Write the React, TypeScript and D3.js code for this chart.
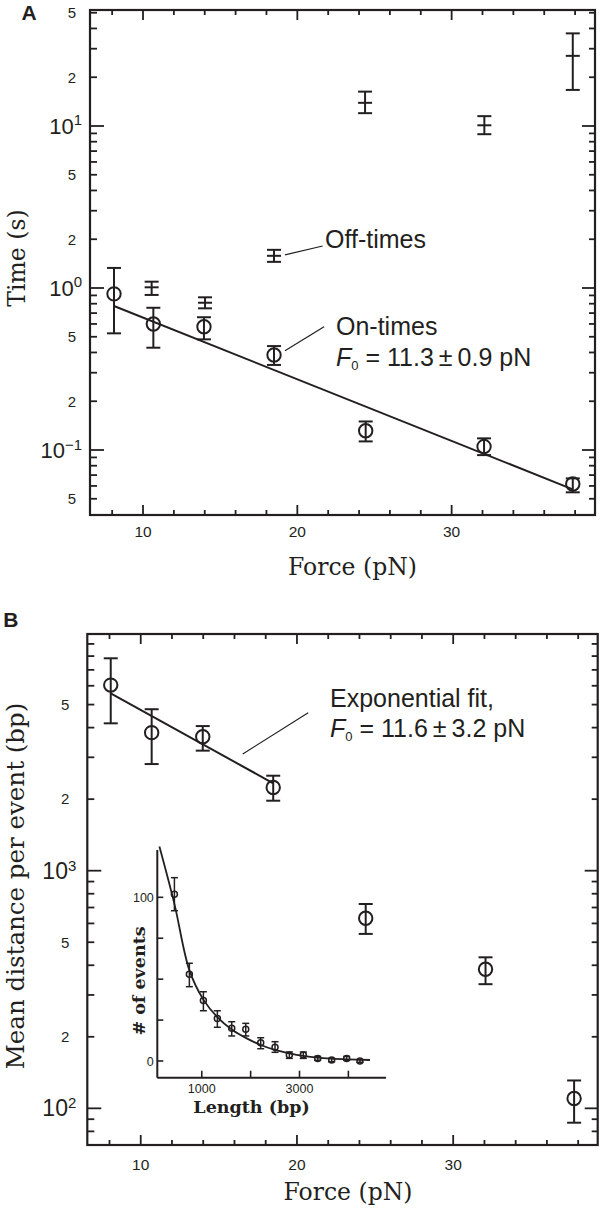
import * as d3 from 'd3';

const INK = '#231f20';
const SANS = '"Liberation Sans", Arial, Helvetica, sans-serif';
const SERIF = '"DejaVu Serif", "Liberation Serif", serif';

// ---- Panel A: on/off times vs force ----
const onForce = [8.12, 10.67, 13.95, 18.49, 24.43, 32.1, 37.85];
const onTime = [0.92, 0.6, 0.577, 0.386, 0.1316, 0.105, 0.0617];
const onLo = [0.525, 0.428, 0.482, 0.335, 0.113, 0.093, 0.0548];
const onHi = [1.33, 0.755, 0.66, 0.438, 0.15, 0.118, 0.0668];

const offForce = [10.56, 14.02, 18.49, 24.39, 32.12, 37.85];
const offTime = [1.01, 0.811, 1.58, 13.9, 10.1, 27.1];
const offLo = [0.906, 0.749, 1.45, 12.0, 8.9, 16.7];
const offHi = [1.094, 0.876, 1.72, 16.3, 11.5, 37.3];

// fit line end points
const onFitForce = [8.12, 37.85];
const onFitTime = [0.774, 0.0572];

// leader lines (data units)
const offLeaderForce = [19.2, 21.64];
const offLeaderTime = [1.6, 1.817];
const onLeaderForce = [19.2, 21.73];
const onLeaderTime = [0.41, 0.577];

// ---- Panel B: mean distance per event ----
const distForce = [8.08, 10.7, 13.97, 18.48, 24.4, 32.07, 37.74];
const dist = [6040, 3810, 3660, 2240, 631, 385, 110];
const distLo = [4170, 2810, 3200, 1970, 542, 333, 87];
const distHi = [7830, 4780, 4060, 2510, 724, 432, 131];

const distFitForce = [8.08, 18.48];
const distFit = [5570, 2333];
const distLeaderForce = [16.53, 20.72];
const distLeader = [3097, 4624];

// ---- Inset: histogram of lengths ----
const lengths = [440, 746, 1033, 1319, 1613, 1900, 2206, 2499, 2792, 3078, 3372, 3658, 3965, 4237];
const counts = [101.8, 53, 37, 26, 20, 19.4, 11.2, 8.4, 3.7, 3.7, 1.6, 0.6, 1.6, 0];
const countLo = [91.8, 45.4, 30.7, 20.6, 15.3, 15.3, 7.5, 5.3, 1.6, 1.6, 0.4, -0.4, 0.4, -0.8];
const countHi = [112, 59.7, 42.3, 30.7, 24, 23, 14.2, 11.8, 5.5, 5.5, 2.8, 1.6, 2.8, 0.8];
const curveLength = [133, 440, 746, 1033, 1319, 1613, 1920, 2206, 2499, 2792, 3078, 3372, 3658, 3965, 4442];
const curveCount = [131, 96, 55.5, 37.5, 26.8, 19.2, 13.8, 9.8, 6.8, 4.7, 3.1, 2.0, 1.4, 1.0, 0.6];

// tick values
const forceMajor = [10, 20, 30];
const forceMinor = [8, 12, 14, 16, 18, 22, 24, 26, 28, 32, 34, 36, 38];
const insetXTicks = [1000, 2000, 3000, 4000];
const insetXLabels = [1000, 3000];
const insetYTicks = [0, 25, 50, 75, 100];
const insetYLabels = [0, 100];

const xA = d3.scaleLinear().domain([6.565, 39.29]).range([90, 595]);
const yA = d3.scaleLog().domain([0.0397, 52]).range([515, 10]);
const xB = d3.scaleLinear().domain([6.58, 39.25]).range([87.3, 597.7]);
const yB = d3.scaleLog().domain([70.1, 9908]).range([1145, 634]);
const xI = d3.scaleLinear().domain([90, 4770]).range([157.3, 386]);
const yI = d3.scaleLinear().domain([-10.2, 128.9]).range([1077.7, 850]);

const sup = (e: number) => (e < 0 ? '\u2212' + Math.abs(e) : String(e));

function LogFrame({ x, y, xLabelY, majorFont, majorGap, minorGap, supRaise }: any) {
  const [x0, x1] = x.range();
  const [y1, y0] = y.range();
  const yt = y.ticks().filter((v: number) => y(v) > y0 + 1 && y(v) < y1 - 1);
  const isDecade = (v: number) => Math.abs(Math.log10(v) - Math.round(Math.log10(v))) < 1e-6;
  const lead = (v: number) => Math.round(v / Math.pow(10, Math.floor(Math.log10(v) + 1e-9)));
  return (
    <g stroke={INK} fill="none">
      <rect x={x0} y={y0} width={x1 - x0} height={y1 - y0} strokeWidth={2.2} />
      {forceMajor.concat(forceMinor).map((v) => {
        const len = forceMajor.includes(v) ? 10 : 5;
        return (
          <g key={'x' + v} strokeWidth={1.8}>
            <line x1={x(v)} x2={x(v)} y1={y1} y2={y1 - len} />
            <line x1={x(v)} x2={x(v)} y1={y0} y2={y0 + len} />
          </g>
        );
      })}
      {yt.map((v: number) => {
        const dec = isDecade(v);
        return (
          <g key={'y' + v} strokeWidth={1.8}>
            <line x1={x0} x2={x0 + (dec ? 14 : 7)} y1={y(v)} y2={y(v)} />
            <line x1={x1} x2={x1 - (dec ? 13 : 6)} y1={y(v)} y2={y(v)} />
          </g>
        );
      })}
      <g stroke="none" fill={INK} fontFamily={SANS}>
        {forceMajor.map((v) => (
          <text key={'xl' + v} x={x(v)} y={xLabelY} fontSize={15.5} textAnchor="middle">{v}</text>
        ))}
        {yt.map((v: number) => {
          if (isDecade(v)) {
            const e = Math.round(Math.log10(v));
            return (
              <text key={'yl' + v} x={x0 - majorGap} y={y(v) + 8} fontSize={majorFont} textAnchor="end">
                10<tspan fontSize={15} dy={-supRaise}>{sup(e)}</tspan>
              </text>
            );
          }
          const l = lead(v);
          if (l !== 2 && l !== 5) return null;
          return (
            <text key={'yl' + v} x={x0 - minorGap} y={y(v) + 5.3} fontSize={15} textAnchor="end">{l}</text>
          );
        })}
      </g>
    </g>
  );
}

function ErrBar({ cx, lo, hi, hw, mid }: any) {
  return (
    <g>
      <line x1={cx} x2={cx} y1={lo} y2={hi} />
      <line x1={cx - hw} x2={cx + hw} y1={lo} y2={lo} />
      <line x1={cx - hw} x2={cx + hw} y1={hi} y2={hi} />
      {mid !== undefined && <line x1={cx - hw} x2={cx + hw} y1={mid} y2={mid} />}
    </g>
  );
}

function FLabel({ x, y, text }: any) {
  return (
    <text x={x} y={y} fontSize={25} fontFamily={SANS} fill={INK}>
      <tspan fontStyle="italic">F</tspan>
      <tspan fontSize={13} dy={4}>0</tspan>
      <tspan dy={-4}>{' = ' + text}</tspan>
    </text>
  );
}

export default function App() {
  const lineA = d3.line<number>().x((d, i) => xA(onFitForce[i])).y((d) => yA(d));
  const lineB = d3.line<number>().x((d, i) => xB(distFitForce[i])).y((d) => yB(d));
  const curveI = d3
    .line<number>()
    .x((d, i) => xI(curveLength[i]))
    .y((d) => yI(d))
    .curve(d3.curveCatmullRom.alpha(0.5));

  return (
    <svg
      width={600}
      height={1209}
      viewBox="0 0 600 1209"
      style={{ position: 'absolute', left: 0, top: 0, background: '#fff' }}
    >
      <rect width={600} height={1209} fill="#fff" />

      {/* ---------- Panel A ---------- */}
      <text x={21.5} y={20} fontSize={21} fontWeight="bold" fontFamily={SANS} fill={INK}>A</text>
      <LogFrame x={xA} y={yA} xLabelY={536.7} majorFont={22} majorGap={8} minorGap={14} supRaise={8.5} />
      <text transform="translate(25,258) rotate(-90)" textAnchor="middle" fontSize={23.5} fontFamily={SERIF} fill={INK}>
        Time (s)
      </text>
      <text x={352.5} y={575} textAnchor="middle" fontSize={23.5} fontFamily={SERIF} fill={INK}>Force (pN)</text>

      <g stroke={INK} fill="none" strokeWidth={2}>
        <path d={lineA(onFitTime) || ''} />
        {offForce.map((f, i) => (
          <ErrBar key={'off' + i} cx={xA(f)} lo={yA(offLo[i])} hi={yA(offHi[i])} mid={yA(offTime[i])} hw={7} />
        ))}
        {onForce.map((f, i) => (
          <g key={'on' + i}>
            <ErrBar cx={xA(f)} lo={yA(onLo[i])} hi={yA(onHi[i])} hw={7} />
            <circle cx={xA(f)} cy={yA(onTime[i])} r={6.7} />
          </g>
        ))}
        <line
          strokeWidth={1.2}
          x1={xA(offLeaderForce[0])} y1={yA(offLeaderTime[0])}
          x2={xA(offLeaderForce[1])} y2={yA(offLeaderTime[1])}
        />
        <line
          strokeWidth={1.2}
          x1={xA(onLeaderForce[0])} y1={yA(onLeaderTime[0])}
          x2={xA(onLeaderForce[1])} y2={yA(onLeaderTime[1])}
        />
      </g>
      <text x={325} y={248} fontSize={25} fontFamily={SANS} fill={INK}>Off-times</text>
      <text x={336} y={335} fontSize={25} fontFamily={SANS} fill={INK}>On-times</text>
      <FLabel x={336} y={366} text={'11.3\u2009\u00b1\u20090.9 pN'} />

      {/* ---------- Panel B ---------- */}
      <text x={3.3} y={626.7} fontSize={21} fontWeight="bold" fontFamily={SANS} fill={INK}>B</text>
      <LogFrame x={xB} y={yB} xLabelY={1170} majorFont={23} majorGap={11} minorGap={18} supRaise={8} />
      <text transform="translate(23.5,886) rotate(-90)" textAnchor="middle" fontSize={24.5} fontFamily={SERIF} fill={INK}>
        Mean distance per event (bp)
      </text>
      <text x={348} y={1200} textAnchor="middle" fontSize={23.5} fontFamily={SERIF} fill={INK}>Force (pN)</text>

      <g stroke={INK} fill="none" strokeWidth={2}>
        <path d={lineB(distFit) || ''} />
        {distForce.map((f, i) => (
          <g key={'d' + i}>
            <ErrBar cx={xB(f)} lo={yB(distLo[i])} hi={yB(distHi[i])} hw={7} />
            <circle cx={xB(f)} cy={yB(dist[i])} r={6.7} />
          </g>
        ))}
        <line
          strokeWidth={1.2}
          x1={xB(distLeaderForce[0])} y1={yB(distLeader[0])}
          x2={xB(distLeaderForce[1])} y2={yB(distLeader[1])}
        />
      </g>
      <text x={330} y={706.7} fontSize={25} fontFamily={SANS} fill={INK}>Exponential fit,</text>
      <FLabel x={330} y={737.3} text={'11.6\u2009\u00b1\u20093.2 pN'} />

      {/* ---------- Inset ---------- */}
      <g stroke={INK} fill="none" strokeWidth={2}>
        <line x1={xI.range()[0]} x2={xI.range()[0]} y1={yI.range()[0]} y2={yI.range()[1]} />
        <line x1={xI.range()[0]} x2={xI.range()[1]} y1={yI.range()[0]} y2={yI.range()[0]} />
        {insetXTicks.map((v) => (
          <line key={'ix' + v} x1={xI(v)} x2={xI(v)} y1={yI.range()[0]} y2={yI.range()[0] - 7} strokeWidth={1.6} />
        ))}
        {insetYTicks.map((v) => (
          <line key={'iy' + v} x1={xI.range()[0]} x2={xI.range()[0] + 6} y1={yI(v)} y2={yI(v)} strokeWidth={1.6} />
        ))}
        <path d={curveI(curveCount) || ''} strokeWidth={1.8} />
        {lengths.map((l, i) => (
          <g key={'h' + i} strokeWidth={1.5}>
            <ErrBar cx={xI(l)} lo={yI(countLo[i])} hi={yI(countHi[i])} hw={3.5} />
            <circle cx={xI(l)} cy={yI(counts[i])} r={3} />
          </g>
        ))}
      </g>
      <g fill={INK} fontFamily={SANS} fontSize={12.5}>
        {insetXLabels.map((v) => (
          <text key={'ixl' + v} x={xI(v)} y={1093} textAnchor="middle">{v}</text>
        ))}
        {insetYLabels.map((v) => (
          <text key={'iyl' + v} x={xI.range()[0] - 3.5} y={yI(v) + 4.5} textAnchor="end">{v}</text>
        ))}
      </g>
      <text transform="translate(145,981) rotate(-90)" textAnchor="middle" fontSize={17.5} fontWeight="bold" fontFamily={SERIF} fill={INK}>
        # of events
      </text>
      <text x={251.5} y={1113} textAnchor="middle" fontSize={17.5} fontWeight="bold" fontFamily={SERIF} fill={INK}>
        Length (bp)
      </text>
    </svg>
  );
}
